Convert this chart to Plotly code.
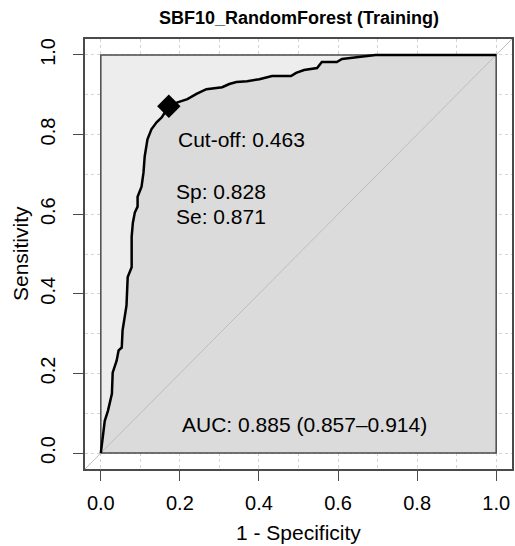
import plotly.graph_objects as go

# ROC curve (1 - specificity, sensitivity)
fpr = [0.0, 0.0025, 0.010, 0.018, 0.028, 0.030, 0.040, 0.045, 0.053, 0.055, 0.060, 0.065,
       0.068, 0.078, 0.078, 0.081, 0.086, 0.093, 0.093, 0.103, 0.108, 0.111, 0.118, 0.128,
       0.141, 0.154, 0.172, 0.194, 0.219, 0.242, 0.267, 0.307, 0.325, 0.343, 0.370, 0.401,
       0.433, 0.481, 0.494, 0.514, 0.547, 0.559, 0.597, 0.610, 0.652, 0.695, 1.0]
tpr = [0.0, 0.023, 0.081, 0.106, 0.149, 0.202, 0.232, 0.258, 0.265, 0.308, 0.341, 0.371,
       0.442, 0.467, 0.543, 0.578, 0.604, 0.619, 0.644, 0.669, 0.705, 0.745, 0.788, 0.813,
       0.831, 0.843, 0.871, 0.881, 0.889, 0.902, 0.914, 0.919, 0.927, 0.932, 0.934, 0.939,
       0.947, 0.947, 0.955, 0.962, 0.967, 0.982, 0.982, 0.990, 0.995, 1.0, 1.0]

cutoff = 0.463
sp = 0.828
se = 0.871
auc = 0.885
auc_lo = 0.857
auc_hi = 0.914
title = "SBF10_RandomForest (Training)"
x_label = "1 - Specificity"
y_label = "Sensitivity"
tick_vals = [0.0, 0.2, 0.4, 0.6, 0.8, 1.0]
tick_text = ["0.0", "0.2", "0.4", "0.6", "0.8", "1.0"]

FONT = "Liberation Sans, Arial, sans-serif"
DARK = "#4a4a4a"

fig = go.Figure()

# full square (max AUC polygon)
fig.add_trace(go.Scatter(x=[0, 1, 1, 0, 0], y=[0, 0, 1, 1, 0], mode="lines",
                         fill="toself", fillcolor="#ededed", line=dict(width=0),
                         hoverinfo="skip", showlegend=False))
# area under the curve
fig.add_trace(go.Scatter(x=fpr + [1.0, 0.0], y=tpr + [0.0, 0.0], mode="lines",
                         fill="toself", fillcolor="#dbdbdb", line=dict(width=0),
                         hoverinfo="skip", showlegend=False))
# diagonal reference
fig.add_trace(go.Scatter(x=[-0.04, 1.04], y=[-0.04, 1.04], mode="lines",
                         line=dict(color="#bdbdbd", width=1), hoverinfo="skip",
                         showlegend=False))
# inner square border
fig.add_trace(go.Scatter(x=[0, 1, 1, 0, 0], y=[0, 0, 1, 1, 0], mode="lines",
                         line=dict(color=DARK, width=1.5), hoverinfo="skip",
                         showlegend=False))
# ROC curve
fig.add_trace(go.Scatter(x=fpr, y=tpr, mode="lines",
                         line=dict(color="black", width=2.5), showlegend=False))
# best threshold
fig.add_trace(go.Scatter(x=[1 - sp], y=[se], mode="markers",
                         marker=dict(symbol="diamond", size=18, color="black"),
                         showlegend=False))

txt = dict(xref="x", yref="y", xanchor="left", yanchor="middle", showarrow=False,
           font=dict(family=FONT, size=21, color="black"))
fig.add_annotation(x=0.189, y=0.788, text=f"Cut-off: {cutoff:.3f}", **txt)
fig.add_annotation(x=0.184, y=0.657, text=f"Sp: {sp:.3f}", **txt)
fig.add_annotation(x=0.184, y=0.593, text=f"Se: {se:.3f}", **txt)
fig.add_annotation(x=0.200, y=0.073, text=f"AUC: {auc:.3f} ({auc_lo:.3f}\u2013{auc_hi:.3f})", **txt)

# axis titles and main title
fig.add_annotation(x=0.5, y=0, xref="paper", yref="paper", yshift=-63, text=x_label,
                   showarrow=False, xanchor="center", yanchor="middle",
                   font=dict(family=FONT, size=21, color="black"))
fig.add_annotation(x=0, y=0.5, xref="paper", yref="paper", xshift=-65, text=y_label,
                   textangle=-90, showarrow=False, xanchor="center", yanchor="middle",
                   font=dict(family=FONT, size=21, color="black"))
fig.add_annotation(x=0.5, y=1, xref="paper", yref="paper", yshift=21, text="<b>" + title + "</b>",
                   showarrow=False, xanchor="center", yanchor="middle",
                   font=dict(family=FONT, size=18, color="black"))

axis_common = dict(range=[-0.04, 1.04], showline=True, mirror=True, linecolor=DARK,
                   linewidth=1.5, ticks="outside", ticklen=10, tickcolor=DARK, tickwidth=1.2,
                   tickvals=tick_vals, ticktext=tick_text, zeroline=False,
                   showgrid=True, gridcolor="#d4d4d4", griddash="dot", gridwidth=1,
                   minor=dict(dtick=0.1, tick0=0, showgrid=True, gridcolor="#d4d4d4",
                              griddash="dot", gridwidth=1, ticks=""),
                   tickfont=dict(family=FONT, size=20, color="black"), fixedrange=True)

fig.update_xaxes(**axis_common, ticklabelstandoff=5)
fig.update_yaxes(**axis_common, tickangle=-90, ticklabelstandoff=10)

fig.update_layout(width=515, height=546, margin=dict(l=85, r=1, t=39, b=77),
                  paper_bgcolor="white", plot_bgcolor="white", showlegend=False,
                  font=dict(family=FONT, color="black"))

fig.write_html("out.html", config={"displayModeBar": False},
               post_script="document.body.style.margin='0';document.body.style.overflow='hidden';")
